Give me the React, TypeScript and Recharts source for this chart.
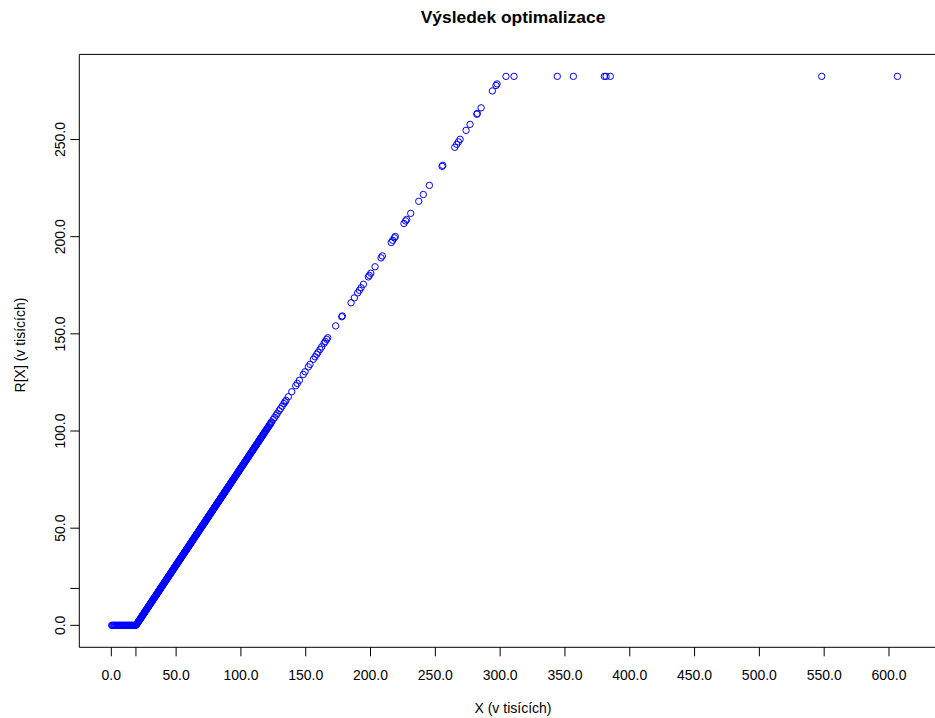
import { ScatterChart, Scatter, XAxis, YAxis, ReferenceLine } from "recharts"

// X values where R[X] is still zero
const flatX = [
  0.3, 0.9, 1.4, 2.1, 2.6, 3.2, 3.9, 4.4, 5.0, 5.7, 6.3, 6.8, 7.5, 8.1, 8.6, 9.3,
  9.9, 10.4, 11.1, 11.7, 12.2, 12.9, 13.5, 14.0, 14.7, 15.3, 15.8, 16.5, 17.1,
  17.6, 18.3, 18.8
]

// [X, R[X]] on the rising part
const rising: [number, number][] = [
  [19.3, 0.3], [19.9, 0.9], [20.6, 1.6], [21.2, 2.2], [21.9, 2.9], [22.6, 3.6],
  [23.2, 4.2], [23.9, 4.9], [24.6, 5.6], [25.3, 6.3], [25.9, 6.9], [26.6, 7.6],
  [27.3, 8.3], [27.9, 8.9], [28.6, 9.6], [29.3, 10.3], [30.0, 11.0], [30.6, 11.6],
  [31.3, 12.3], [32.0, 13.0], [32.6, 13.6], [33.3, 14.3], [34.0, 15.0], [34.7, 15.7],
  [35.3, 16.3], [36.0, 17.0], [36.7, 17.7], [37.3, 18.3], [38.0, 19.0], [38.7, 19.7],
  [39.4, 20.4], [40.0, 21.0], [40.7, 21.7], [41.4, 22.4], [42.0, 23.0], [42.7, 23.7],
  [43.4, 24.4], [44.1, 25.1], [44.7, 25.7], [45.4, 26.4], [46.1, 27.1], [46.7, 27.7],
  [47.4, 28.4], [48.1, 29.1], [48.8, 29.8], [49.4, 30.4], [50.1, 31.1], [50.8, 31.8],
  [51.4, 32.4], [52.1, 33.1], [52.8, 33.8], [53.5, 34.5], [54.1, 35.1], [54.8, 35.8],
  [55.5, 36.5], [56.1, 37.1], [56.8, 37.8], [57.5, 38.5], [58.2, 39.2], [58.8, 39.8],
  [59.5, 40.5], [60.2, 41.2], [60.8, 41.8], [61.5, 42.5], [62.2, 43.2], [62.9, 43.9],
  [63.5, 44.5], [64.2, 45.2], [64.9, 45.9], [65.5, 46.5], [66.2, 47.2], [66.9, 47.9],
  [67.6, 48.6], [68.2, 49.2], [68.9, 49.9], [69.6, 50.6], [70.2, 51.2], [70.9, 51.9],
  [71.6, 52.6], [72.3, 53.3], [72.9, 53.9], [73.6, 54.6], [74.3, 55.3], [74.9, 55.9],
  [75.6, 56.6], [76.3, 57.3], [77.0, 58.0], [77.6, 58.6], [78.3, 59.3], [79.0, 60.0],
  [79.6, 60.6], [80.3, 61.3], [81.0, 62.0], [81.7, 62.7], [82.3, 63.3], [83.0, 64.0],
  [83.7, 64.7], [84.3, 65.3], [85.0, 66.0], [85.7, 66.7], [86.4, 67.4], [87.0, 68.0],
  [87.7, 68.7], [88.4, 69.4], [89.0, 70.0], [89.7, 70.7], [90.4, 71.4], [91.1, 72.1],
  [91.7, 72.7], [92.4, 73.4], [93.1, 74.1], [93.7, 74.7], [94.4, 75.4],
  [95.3, 76.3], [96.2, 77.2], [97.1, 78.1], [98.0, 79.0], [98.8, 79.8], [99.7, 80.7],
  [100.7, 81.7], [101.5, 82.5], [102.4, 83.4], [103.4, 84.4], [104.2, 85.2],
  [105.1, 86.1], [106.1, 87.1], [106.9, 87.9], [107.9, 88.9], [108.8, 89.8],
  [109.6, 90.6], [110.6, 91.6], [111.5, 92.5], [112.3, 93.3], [113.3, 94.3],
  [114.2, 95.2], [115.1, 96.1], [116.0, 97.0], [117.0, 98.0], [117.8, 98.8],
  [118.8, 99.8], [119.9, 100.9], [120.7, 101.7], [121.8, 102.8], [122.8, 103.8],
  [123.7, 104.7], [124.9, 105.9], [126.0, 107.0], [127.2, 108.2], [128.1, 109.1],
  [129.4, 110.4], [130.5, 111.5], [131.8, 112.8], [133.1, 114.1], [134.0, 115.0],
  [134.8, 115.8],
  [136.6, 117.6], [139.2, 120.2], [142.3, 123.3], [143.5, 124.5], [145.1, 126.1],
  [148.1, 129.1], [149.5, 130.5], [152.0, 133.0], [153.3, 134.3], [155.9, 136.9],
  [157.2, 138.2], [158.5, 139.5], [159.5, 140.5], [161.0, 142.0], [162.3, 143.3],
  [164.1, 145.1], [165.1, 146.1], [166.2, 147.2], [167.0, 148.0], [173.1, 154.1],
  [177.8, 158.8], [178.2, 159.2], [185.0, 166.0], [187.5, 168.5], [190.1, 171.1],
  [191.4, 172.4], [192.7, 173.7], [194.5, 175.5], [198.3, 179.3], [199.1, 180.1],
  [200.2, 181.2], [203.5, 184.5], [208.1, 189.1], [209.1, 190.1], [216.0, 197.0],
  [217.1, 198.1], [218.4, 199.4], [219.1, 200.1], [225.8, 206.8], [227.1, 208.1],
  [227.9, 208.9], [231.0, 212.0], [237.2, 218.2], [240.7, 221.7], [245.4, 226.4],
  [255.2, 236.2], [255.7, 236.7], [265.0, 246.0], [266.5, 247.5], [267.8, 248.8],
  [269.1, 250.1], [273.7, 254.7], [276.8, 257.8], [282.0, 263.0], [282.4, 263.4],
  [285.3, 266.3], [294.0, 275.0], [296.8, 277.8], [297.6, 278.6]
]

// more [X, R[X]] in the crowded lower stretch, between the ones above
const risingCrowd: [number, number][] = [
  [19.6, 0.6], [20.3, 1.3], [20.9, 1.9], [21.6, 2.6], [22.3, 3.3], [22.9, 3.9],
  [23.6, 4.6], [24.3, 5.3], [24.9, 5.9], [25.6, 6.6], [26.3, 7.3], [26.9, 7.9],
  [27.6, 8.6], [28.3, 9.3], [28.9, 9.9], [29.6, 10.6], [30.3, 11.3], [30.9, 11.9],
  [31.6, 12.6], [32.3, 13.3], [32.9, 13.9], [33.6, 14.6], [34.3, 15.3], [35.0, 16.0],
  [35.6, 16.6], [36.3, 17.3], [37.0, 18.0], [37.6, 18.6], [38.3, 19.3], [39.0, 20.0],
  [39.7, 20.7], [40.3, 21.3], [41.0, 22.0], [41.7, 22.7], [42.3, 23.3], [43.0, 24.0],
  [43.7, 24.7], [44.4, 25.4], [45.0, 26.0], [45.7, 26.7], [46.4, 27.4], [47.0, 28.0],
  [47.7, 28.7], [48.4, 29.4], [49.1, 30.1], [49.7, 30.7], [50.4, 31.4], [51.1, 32.1],
  [51.7, 32.7], [52.4, 33.4], [53.1, 34.1], [53.8, 34.8], [54.4, 35.4], [55.1, 36.1],
  [55.8, 36.8], [56.4, 37.4], [57.1, 38.1], [57.8, 38.8], [58.5, 39.5], [59.1, 40.1],
  [59.8, 40.8], [60.5, 41.5], [61.1, 42.1], [61.8, 42.8], [62.5, 43.5], [63.2, 44.2],
  [63.8, 44.8], [64.5, 45.5], [65.2, 46.2], [65.8, 46.8], [66.5, 47.5], [67.2, 48.2],
  [67.9, 48.9], [68.5, 49.5], [69.2, 50.2], [69.9, 50.9], [70.5, 51.5], [71.2, 52.2],
  [71.9, 52.9], [72.6, 53.6], [73.2, 54.2], [73.9, 54.9], [74.6, 55.6], [75.2, 56.2],
  [75.9, 56.9], [76.6, 57.6], [77.3, 58.3], [77.9, 58.9], [78.6, 59.6], [79.3, 60.3],
  [79.9, 60.9], [80.6, 61.6], [81.3, 62.3], [82.0, 63.0], [82.6, 63.6], [83.3, 64.3],
  [84.0, 65.0], [84.6, 65.6], [85.3, 66.3], [86.0, 67.0], [86.7, 67.7], [87.3, 68.3],
  [88.0, 69.0], [88.7, 69.7], [89.3, 70.3], [90.0, 71.0], [90.7, 71.7], [91.4, 72.4],
  [92.0, 73.0], [92.7, 73.7], [93.4, 74.4], [94.0, 75.0], [94.8, 75.8],
  [95.7, 76.7], [96.6, 77.6], [97.5, 78.5], [98.4, 79.4], [99.2, 80.2], [100.2, 81.2],
  [101.1, 82.1], [101.9, 82.9], [102.9, 83.9], [103.8, 84.8], [104.6, 85.6],
  [105.6, 86.6], [106.5, 87.5], [107.4, 88.4], [108.3, 89.3], [109.2, 90.2],
  [110.1, 91.1], [111.0, 92.0], [111.9, 92.9], [112.8, 93.8], [113.7, 94.7],
  [114.6, 95.6], [115.5, 96.5], [116.5, 97.5], [117.4, 98.4], [118.3, 99.3],
  [119.3, 100.3], [120.3, 101.3], [121.2, 102.2], [122.3, 103.3], [123.2, 104.2]
]

// X values where R[X] sits at its upper limit
const cappedX = [304.5, 310.7, 344.1, 356.5, 380.4, 381.7, 385.0, 548.1, 606.5]
const capValue = 282.5

const xTicks = [0, 19, 50, 100, 150, 200, 250, 300, 350, 400, 450, 500, 550, 600]
const yTicks = [0, 19, 50, 100, 150, 200, 250]
const unlabeled = 19

// the plot box runs off the right edge of the page
const xDomain: [number, number] = [-24.7, 635.5]
const yDomain: [number, number] = [-11.3, 293.8]

const points = [
  ...flatX.map((x) => ({ x, r: 0 })),
  ...rising.map(([x, r]) => ({ x, r })),
  ...risingCrowd.map(([x, r]) => ({ x, r })),
  ...cappedX.map((x) => ({ x, r: capValue }))
]

const font = "'Liberation Sans', Arial, Helvetica, sans-serif"

function XTick(props: any) {
  const { x, y, payload } = props
  if (payload.value === unlabeled) return null
  return (
    <text x={x} y={y + 10} textAnchor="middle" fontSize={14} fill="#000" fontFamily={font}>
      {payload.value.toFixed(1)}
    </text>
  )
}

function YTick(props: any) {
  const { x, y, payload } = props
  if (payload.value === unlabeled) return null
  return (
    <text
      x={x}
      y={y}
      transform={`rotate(-90, ${x}, ${y})`}
      textAnchor="middle"
      fontSize={14}
      fill="#000"
      fontFamily={font}
    >
      {payload.value.toFixed(1)}
    </text>
  )
}

function Ring(props: any) {
  return <circle cx={props.cx} cy={props.cy} r={3.2} fill="none" stroke="#0000ff" strokeWidth={1} />
}

export default function App() {
  return (
    <div style={{ position: "absolute", left: 0, top: 0, width: 935, height: 718, overflow: "hidden", background: "#fff" }}>
      <ScatterChart width={935} height={718} margin={{ top: 54.4, right: 0, bottom: 0, left: 0 }}>
        <XAxis
          type="number"
          dataKey="x"
          domain={xDomain}
          ticks={xTicks}
          interval={0}
          allowDataOverflow
          height={70.7}
          tickSize={9}
          tickMargin={14}
          stroke="#000"
          tick={<XTick />}
        />
        <YAxis
          type="number"
          dataKey="r"
          domain={yDomain}
          ticks={yTicks}
          interval={0}
          allowDataOverflow
          width={79.3}
          tickSize={9}
          tickMargin={5}
          stroke="#000"
          tick={<YTick />}
        />
        <ReferenceLine y={yDomain[1]} stroke="#000" />
        <Scatter data={points} shape={<Ring />} isAnimationActive={false} />
      </ScatterChart>
      <svg width={935} height={718} style={{ position: "absolute", left: 0, top: 0, pointerEvents: "none" }}>
        <text x={513} y={23} textAnchor="middle" fontSize={17.4} fontWeight="bold" fontFamily={font}>
          Výsledek optimalizace
        </text>
        <text x={513} y={713} textAnchor="middle" fontSize={14} fontFamily={font}>
          X (v tisících)
        </text>
        <text x={25} y={345} transform="rotate(-90, 25, 345)" textAnchor="middle" fontSize={14} fontFamily={font}>
          R[X] (v tisících)
        </text>
      </svg>
    </div>
  )
}
